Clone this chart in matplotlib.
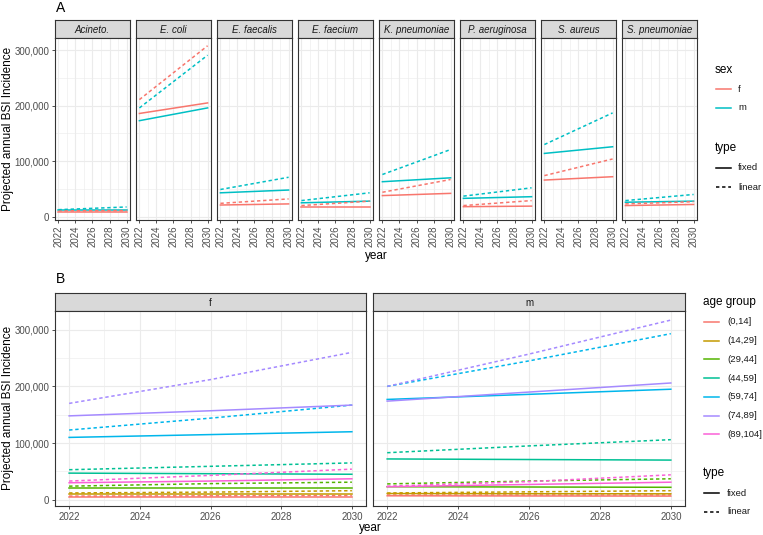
import matplotlib
matplotlib.use("Agg")
import matplotlib.pyplot as plt
from matplotlib.lines import Line2D
from matplotlib.ticker import FuncFormatter, MultipleLocator

plt.rcParams['font.family'] = ['Liberation Sans', 'DejaVu Sans']

# ---- data (values in thousands) ----
species = ["Acineto.", "E. coli", "E. faecalis", "E. faecium",
           "K. pneumoniae", "P. aeruginosa", "S. aureus", "S. pneumoniae"]
years_a = [2022, 2030]
# (2022, 2030) per species
a_f_fixed = [(8.4, 8.4), (186, 205), (21, 23), (17.5, 17.5),
             (38, 42), (18, 19), (66, 72), (20, 22)]
a_m_fixed = [(11.4, 11.4), (173, 196), (43, 48), (25, 28),
             (63, 70), (33, 36), (114, 126), (26, 28)]
a_f_linear = [(10.5, 11), (211, 308), (24, 32), (20, 28),
              (44, 67), (20, 29), (74, 104), (23, 27)]
a_m_linear = [(12.6, 17.5), (196, 291), (49, 71), (29, 43),
              (76, 121), (37, 52), (130, 187), (29, 40)]

sexes = ["f", "m"]
age_groups = ["(0,14]", "(14,29]", "(29,44]", "(44,59]", "(59,74]", "(74,89]", "(89,104]"]
years_b = [2022, 2026, 2030]
b_f_fixed = [(4.7, 4.7, 4.7), (10.5, 10.5, 10.5), (20, 20, 20), (47, 46, 45),
             (110, 115, 120), (148, 157, 167), (30, 33, 37)]
b_f_linear = [(6.5, 7, 7.5), (12, 13.5, 16), (24, 28.5, 31), (53, 59, 65),
              (123, 144, 167), (170, 212, 260), (33, 43, 54)]
b_m_fixed = [(7, 6.7, 6.5), (11, 10.7, 10.5), (23, 22.5, 22), (72, 71, 70),
             (177, 186, 195), (174, 190, 206), (23, 27, 31)]
b_m_linear = [(9, 9, 9), (12, 14, 16), (28, 33, 37), (83, 95, 106),
              (200, 245, 293), (200, 257, 317), (24, 32, 44)]

sex_colors = ["#F8766D", "#00BFC4"]
age_colors = ["#F8766D", "#C49A00", "#53B400", "#00C094", "#00B6EB", "#A58AFF", "#FB61D7"]

W, H = 763, 535
fig = plt.figure(figsize=(W / 100, H / 100), dpi=100)


def rect(x0, y0, x1, y1):
    return [x0 / W, 1 - y1 / H, (x1 - x0) / W, (y1 - y0) / H]


def fx(x):
    return x / W


def fy(y):
    return 1 - y / H


grey20 = "#333333"
tick_fs = 7
lw = 1.1
dash = (2.2, 1.8)
fmt = FuncFormatter(lambda v, p: "{:,.0f}".format(v))


def style_panel(ax, ylim, show_y, rot):
    ax.set_facecolor("white")
    ax.set_xlim(2021.6, 2030.4)
    ax.set_ylim(*ylim)
    ax.xaxis.set_major_locator(MultipleLocator(2))
    ax.xaxis.set_minor_locator(MultipleLocator(1))
    ax.yaxis.set_major_locator(MultipleLocator(100000))
    ax.yaxis.set_minor_locator(MultipleLocator(50000))
    ax.yaxis.set_major_formatter(fmt)
    ax.grid(which="major", color="#EBEBEB", lw=0.8, zorder=0)
    ax.grid(which="minor", color="#EBEBEB", lw=0.4, zorder=0)
    ax.set_axisbelow(True)
    for s in ax.spines.values():
        s.set_color(grey20)
        s.set_linewidth(0.8)
    ax.tick_params(which="minor", length=0)
    ax.tick_params(which="major", length=2.5, width=0.6, color=grey20,
                   labelsize=tick_fs, labelcolor="#4D4D4D", pad=1.5)
    if not show_y:
        ax.tick_params(axis="y", which="major", length=0, labelleft=False)
    if rot:
        for lab in ax.get_xticklabels():
            lab.set_rotation(90)


def strip(x0, y0, x1, y1, text, italic):
    sa = fig.add_axes(rect(x0, y0, x1, y1))
    sa.set_facecolor("#D9D9D9")
    sa.set_xticks([])
    sa.set_yticks([])
    for s in sa.spines.values():
        s.set_color(grey20)
        s.set_linewidth(0.8)
    sa.text(0.5, 0.45, text, ha="center", va="center", fontsize=7,
            color="#1A1A1A", style="italic" if italic else "normal",
            transform=sa.transAxes)


# ---- panel A ----
for i, sp in enumerate(species):
    x0 = 55 + 81 * i
    x1 = x0 + 75
    strip(x0, 20, x1, 38, sp, True)
    ax = fig.add_axes(rect(x0, 38, x1, 220))
    ax.plot(years_a, [v * 1000 for v in a_f_fixed[i]], color=sex_colors[0], lw=lw)
    ax.plot(years_a, [v * 1000 for v in a_m_fixed[i]], color=sex_colors[1], lw=lw)
    ax.plot(years_a, [v * 1000 for v in a_f_linear[i]], color=sex_colors[0], lw=lw, dashes=dash)
    ax.plot(years_a, [v * 1000 for v in a_m_linear[i]], color=sex_colors[1], lw=lw, dashes=dash)
    style_panel(ax, (-6000, 322000), i == 0, True)

fig.text(fx(376), fy(256), "year", ha="center", va="center", fontsize=8.5)
fig.text(fx(8), fy(129), "Projected annual BSI Incidence", rotation=90,
         ha="center", va="center", fontsize=8.5)
fig.text(fx(56), fy(8), "A", ha="left", va="center", fontsize=10)

# ---- panel B ----
b_fixed = [b_f_fixed, b_m_fixed]
b_linear = [b_f_linear, b_m_linear]
for j, sx in enumerate(sexes):
    x0, x1 = [(55, 366), (373, 685)][j]
    strip(x0, 293, x1, 311, sx, False)
    ax = fig.add_axes(rect(x0, 311, x1, 506))
    for k in range(len(age_groups)):
        ax.plot(years_b, [v * 1000 for v in b_fixed[j][k]], color=age_colors[k], lw=lw)
        ax.plot(years_b, [v * 1000 for v in b_linear[j][k]], color=age_colors[k], lw=lw, dashes=dash)
    style_panel(ax, (-11000, 333000), j == 0, False)

fig.text(fx(370), fy(528), "year", ha="center", va="center", fontsize=8.5)
fig.text(fx(8), fy(408), "Projected annual BSI Incidence", rotation=90,
         ha="center", va="center", fontsize=8.5)
fig.text(fx(56), fy(279), "B", ha="left", va="center", fontsize=10)


# ---- legends ----
def legend_key(x0, x1, y, color, dashed, label, tx):
    kw = dict(color=color, lw=lw, transform=fig.transFigure)
    if dashed:
        kw["dashes"] = dash
    fig.lines.append(Line2D([fx(x0), fx(x1)], [fy(y), fy(y)], **kw))
    fig.text(fx(tx), fy(y), label, ha="left", va="center", fontsize=6.8, color="#1A1A1A")


fig.text(fx(715), fy(70), "sex", ha="left", va="center", fontsize=8.5)
for k, sx in enumerate(sexes):
    legend_key(716, 731, 89 + 19 * k, sex_colors[k], False, sx, 738)
fig.text(fx(715), fy(148), "type", ha="left", va="center", fontsize=8.5)
legend_key(716, 731, 168, "black", False, "fixed", 738)
legend_key(716, 731, 187, "black", True, "linear", 738)

fig.text(fx(703), fy(302), "age group", ha="left", va="center", fontsize=8.5)
for k, ag in enumerate(age_groups):
    legend_key(704, 719, 322 + 18.7 * k, age_colors[k], False, ag, 727)
fig.text(fx(703), fy(473), "type", ha="left", va="center", fontsize=8.5)
legend_key(704, 719, 493, "black", False, "fixed", 727)
legend_key(704, 719, 512, "black", True, "linear", 727)

fig.savefig("out.png", dpi=100)
